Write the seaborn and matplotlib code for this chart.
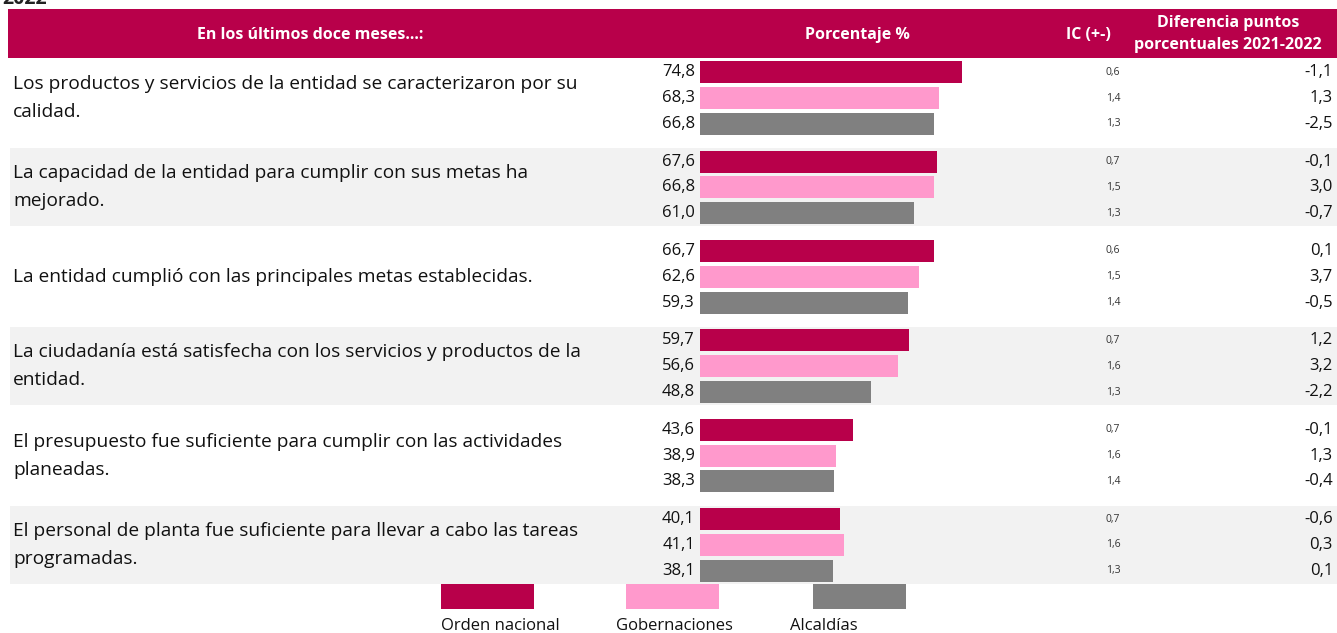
import matplotlib
matplotlib.use("Agg")
import matplotlib.pyplot as plt
from matplotlib.patches import Rectangle
import numpy as np
import pandas as pd
import seaborn as sns

# data
preguntas = [
    "Los productos y servicios de la entidad se caracterizaron por su\ncalidad.",
    "La capacidad de la entidad para cumplir con sus metas ha\nmejorado.",
    "La entidad cumplió con las principales metas establecidas.",
    "La ciudadanía está satisfecha con los servicios y productos de la\nentidad.",
    "El presupuesto fue suficiente para cumplir con las actividades\nplaneadas.",
    "El personal de planta fue suficiente para llevar a cabo las tareas\nprogramadas.",
]
series = ["Orden nacional", "Gobernaciones", "Alcaldías"]
orden_nacional = [74.8, 67.6, 66.7, 59.7, 43.6, 40.1]
gobernaciones = [68.3, 66.8, 62.6, 56.6, 38.9, 41.1]
alcaldias = [66.8, 61.0, 59.3, 48.8, 38.3, 38.1]
ic_orden = [0.6, 0.7, 0.6, 0.7, 0.7, 0.7]
ic_gob = [1.4, 1.5, 1.5, 1.6, 1.6, 1.6]
ic_alc = [1.3, 1.3, 1.4, 1.3, 1.4, 1.3]
dif_orden = [-1.1, -0.1, 0.1, 1.2, -0.1, -0.6]
dif_gob = [1.3, 3.0, 3.7, 3.2, 1.3, 0.3]
dif_alc = [-2.5, -0.7, -0.5, -2.2, -0.4, 0.1]

colores = {"Orden nacional": "#B8004A", "Gobernaciones": "#FF99CC", "Alcaldías": "#808080"}
BANDA = "#F2F2F2"

# layout in pixels (figure is 1337 x 633, y measured from top)
W, H = 1337, 633
FIRST, GROUP_PITCH, BAR_PITCH = 98.0, 89.4, 25.8
BAR_X0 = 700
PX_PER_UNIT = 3.503


def fmt(v):
    return f"{v:.1f}".replace(".", ",")


rows = []
for i in range(len(preguntas)):
    centro = FIRST + i * GROUP_PITCH
    vals = [orden_nacional[i], gobernaciones[i], alcaldias[i]]
    ics = [ic_orden[i], ic_gob[i], ic_alc[i]]
    difs = [dif_orden[i], dif_gob[i], dif_alc[i]]
    for j, s in enumerate(series):
        rows.append({"grupo": i, "serie": s, "pos": centro + (j - 1) * BAR_PITCH,
                     "valor": vals[j], "ic": ics[j], "dif": difs[j]})
df = pd.DataFrame(rows)

sns.set_theme(style="white")
plt.rcParams["font.family"] = ["Open Sans", "DejaVu Sans"]

fig = plt.figure(figsize=(W / 100, H / 100), dpi=100)
bg = fig.add_axes([0, 0, 1, 1])
bg.set_xlim(0, W)
bg.set_ylim(H, 0)
bg.set_axis_off()

# alternating grey bands
for i in range(len(preguntas)):
    if i % 2 == 1:
        c = FIRST + i * GROUP_PITCH
        bg.add_patch(Rectangle((10, c - 39), W - 10, 78, color=BANDA, lw=0, zorder=0))

# header
bg.add_patch(Rectangle((8, 9), W - 8, 49, color=colores["Orden nacional"], lw=0, zorder=1))
hdr = dict(color="white", fontweight="bold", fontsize=11.5, va="center", ha="center", zorder=2)
bg.text(310, 35, "En los últimos doce meses...:", **hdr)
bg.text(857, 35, "Porcentaje %", **hdr)
bg.text(1088, 35, "IC (+-)", **hdr)
bg.text(1228, 34, "Diferencia puntos\nporcentuales 2021-2022", linespacing=1.45, **hdr)
# title above the table, cut by the top edge as in the source
bg.text(2, 4, "2022", fontsize=14, fontweight="bold", color="#222222", va="baseline", ha="left")

# questions
for i, q in enumerate(preguntas):
    bg.text(13, FIRST + i * GROUP_PITCH, q, fontsize=13.8, va="center", ha="left",
            linespacing=1.72, color="#111111", zorder=2)

# per-bar labels
for _, r in df.iterrows():
    bg.text(BAR_X0 - 5, r["pos"], fmt(r["valor"]), fontsize=12, ha="right", va="center",
            color="#111111", zorder=2)
    bg.text(1113, r["pos"], fmt(r["ic"]), fontsize=7.5, ha="center", va="center",
            color="#333333", zorder=2)
    bg.text(1333, r["pos"], fmt(r["dif"]), fontsize=12, ha="right", va="center",
            color="#111111", zorder=2)

# bars
ax = fig.add_axes([BAR_X0 / W, 0, 1 - BAR_X0 / W, 1])
sns.barplot(data=df, x="valor", y="pos", hue="serie", orient="h", native_scale=True,
            dodge=False, palette=colores, width=0.86, saturation=1, linewidth=0,
            legend=False, ax=ax)
ax.set_xlim(0, (W - BAR_X0) / PX_PER_UNIT)
ax.set_ylim(H, 0)
ax.set_axis_off()

# legend below the table
leg_x = [441, 626, 813]
txt_x = [441, 616, 790]
for s, lx, tx in zip(series, leg_x, txt_x):
    bg.add_patch(Rectangle((lx, 584), 93, 25, color=colores[s], lw=0, zorder=2))
    bg.text(tx, 626, s, fontsize=12, ha="left", va="center", color="#111111", zorder=2)

fig.savefig("out.png", dpi=100)
